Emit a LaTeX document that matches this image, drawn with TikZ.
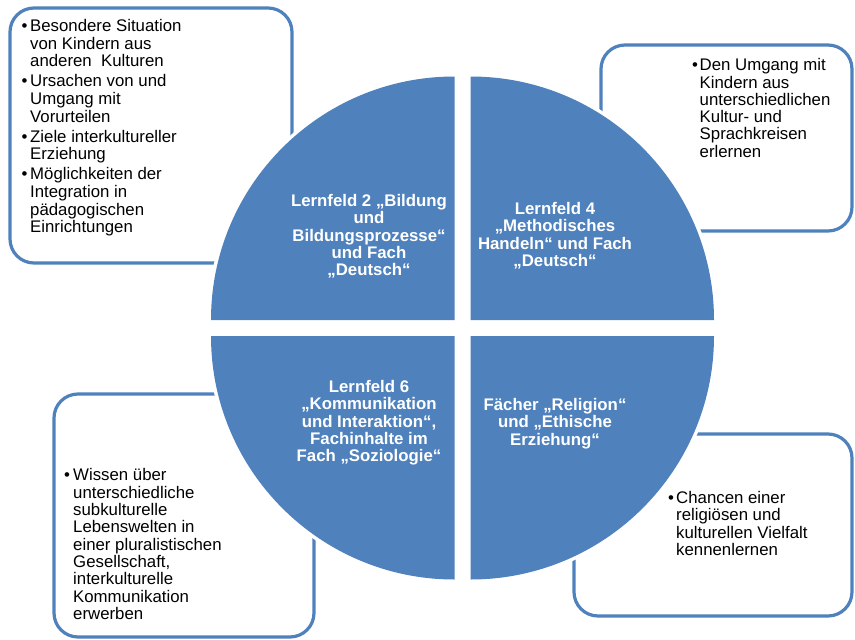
\documentclass[tikz,border=0pt]{standalone}
\usepackage{fontspec}
\setmainfont{Liberation Sans}
\definecolor{qblue}{RGB}{79,129,189}
\newcommand{\bul}[1]{\makebox[#1][l]{•}}
\begin{document}
\begin{tikzpicture}[x=1pt,y=-1pt,
  box/.style={draw=qblue, line width=3.2pt, fill=white, rounded corners=24pt},
  quad/.style={fill=qblue, preaction={draw=white, line width=7pt}},
  qtext/.style={text=white, font=\bfseries\fontsize{16.8}{17.4}\selectfont, align=center, inner sep=0pt, anchor=north},
  btext/.style={text=black, inner sep=0pt, anchor=north west, font=\fontsize{16.8}{17.5}\selectfont}]
\useasboundingbox (0,0) rectangle (855,640);
% outer boxes
\draw[box] (10,8) rectangle (292,263);
\draw[box] (601,45) rectangle (852,231);
\draw[box] (54,394) rectangle (314,637);
\draw[box] (574,434) rectangle (852,616);
% quadrants
\path[quad] (454.5,320) -- (211,320) arc[start angle=180, end angle=270, radius=243.5] -- cycle;
\path[quad] (470.5,320) -- (470.5,76.5) arc[start angle=270, end angle=360, radius=243.5] -- cycle;
\path[quad] (454.5,336) -- (211,336) arc[start angle=180, end angle=90, radius=243.5] -- cycle;
\path[quad] (470.5,336) -- (714,336) arc[start angle=0, end angle=90, radius=243.5] -- cycle;
% quadrant texts
\node[qtext] (q1) at (369,194) {Lernfeld 2 „Bildung\\und\\Bildungsprozesse“\\und Fach\\„Deutsch“};
\node[qtext] (q2) at (555,202) {Lernfeld 4\\„Methodisches\\Handeln“ und Fach\\„Deutsch“};
\node[qtext] (q3) at (369,380) {Lernfeld 6\\„Kommunikation\\und Interaktion“,\\Fachinhalte im\\Fach „Soziologie“};
\node[qtext] (q4) at (555,398) {Fächer „Religion“\\und „Ethische\\Erziehung“};
% box texts
\node[btext] (t1) at (21.5,19) {\fontsize{16.8}{17.6}\selectfont
\begin{tabular}[t]{@{}l@{}l@{}}
\bul{8.5pt}&Besondere Situation\\
&von Kindern aus\\
&anderen\ \ Kulturen\\[2.5pt]
\bul{8.5pt}&Ursachen von und\\
&Umgang mit\\
&Vorurteilen\\[2.5pt]
\bul{8.5pt}&Ziele interkultureller\\
&Erziehung\\[2.5pt]
\bul{8.5pt}&Möglichkeiten der\\
&Integration in\\
&pädagogischen\\
&Einrichtungen
\end{tabular}};
\node[btext] (t2) at (692,58.5) {\fontsize{16.8}{17}\selectfont
\begin{tabular}[t]{@{}l@{}l@{}}
\bul{7.5pt}&Den Umgang mit\\
&Kindern aus\\
&unterschiedlichen\\
&Kultur- und\\
&Sprachkreisen\\
&erlernen
\end{tabular}};
\node[btext] (t3) at (64,468.5) {\fontsize{16.8}{17.25}\selectfont
\begin{tabular}[t]{@{}l@{}l@{}}
\bul{9pt}&Wissen über\\
&unterschiedliche\\
&subkulturelle\\
&Lebenswelten in\\
&einer pluralistischen\\
&Gesellschaft,\\
&interkulturelle\\
&Kommunikation\\
&erwerben
\end{tabular}};
\node[btext] (t4) at (668,491) {\fontsize{16.8}{17.2}\selectfont
\begin{tabular}[t]{@{}l@{}l@{}}
\bul{8pt}&Chancen einer\\
&religiösen und\\
&kulturellen Vielfalt\\
&kennenlernen
\end{tabular}};
\end{tikzpicture}
\end{document}
